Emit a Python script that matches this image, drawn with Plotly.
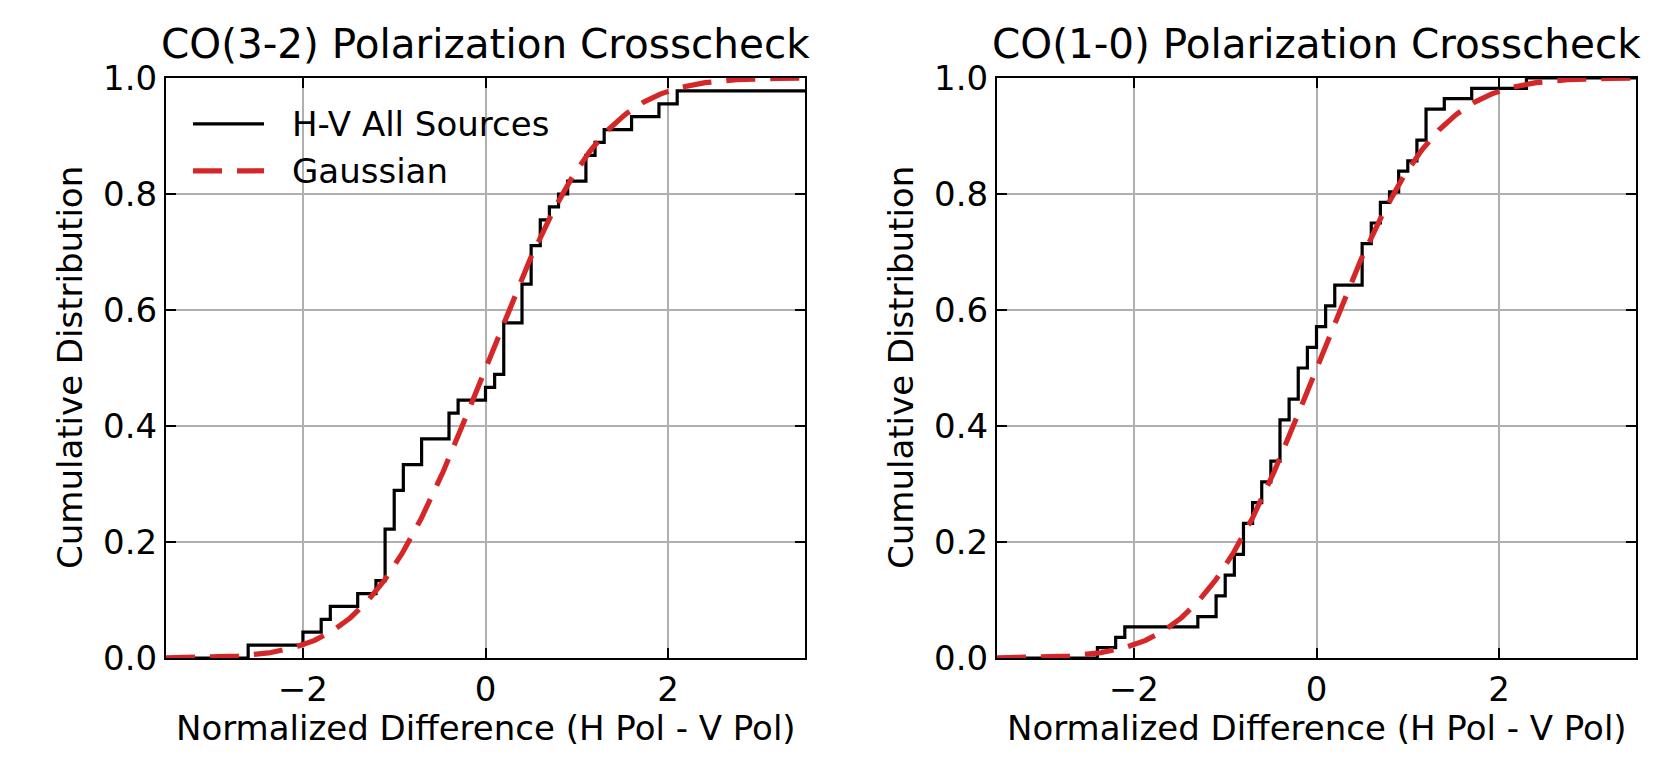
import math
import numpy as np
import plotly.graph_objects as go

# ---------------- data ----------------
panel_titles = ["CO(3-2) Polarization Crosscheck", "CO(1-0) Polarization Crosscheck"]
x_label = "Normalized Difference (H Pol - V Pol)"
y_label = "Cumulative Distribution"
legend_labels = ["H-V All Sources", "Gaussian"]

x_range = [-3.5, 3.5]
y_range = [0.0, 1.0]
x_ticks = [-2, 0, 2]
y_ticks = [0.0, 0.2, 0.4, 0.6, 0.8, 1.0]

# normalized H-V differences (read from the step positions)
co32_values = [-2.6, -2.0, -1.8, -1.7, -1.4, -1.2,
               -1.1, -1.1, -1.1, -1.1, -1.0, -1.0, -1.0, -0.9, -0.9,
               -0.7, -0.7, -0.4, -0.4, -0.3, 0.0, 0.1,
               0.2, 0.2, 0.2, 0.2, 0.4, 0.4, 0.4, 0.5, 0.5, 0.5,
               0.6, 0.6, 0.7, 0.8, 0.9, 1.1, 1.1, 1.2, 1.3,
               1.6, 1.9, 2.1, 3.8]

co10_values = [-2.4, -2.2, -2.1, -1.3, -1.1, -1.1, -1.0, -1.0,
               -0.9, -0.9, -0.8, -0.8, -0.8, -0.7, -0.7, -0.6, -0.6,
               -0.5, -0.5, -0.4, -0.4, -0.4, -0.4, -0.3, -0.3,
               -0.2, -0.2, -0.2, -0.1, -0.1, 0.0, 0.0, 0.1, 0.1,
               0.2, 0.2, 0.5, 0.5, 0.5, 0.5, 0.6, 0.6, 0.7, 0.7,
               0.8, 0.9, 0.9, 1.0, 1.1, 1.1, 1.2, 1.2, 1.2,
               1.4, 1.7, 2.3]

gauss_mu = 0.0
gauss_sigma = 1.0

# ---------------- styling ----------------
FONT = "DejaVu Sans"
BLACK = "#000000"
RED = "#d62728"
GRID = "#b0b0b0"
DASH = "29px,15px"
FS = 34
FS_TITLE = 40.5
W, H = 1661, 775
ML, MR, MT, MB = 166, 25, 78, 117
plot_w = W - ML - MR
ax_w = 639
gap = plot_w - 2 * ax_w


def ecdf(values):
    v = np.sort(np.asarray(values, dtype=float))
    u, c = np.unique(v, return_counts=True)
    cum = np.cumsum(c) / len(v)
    xs = np.concatenate([[-10.0], u, [10.0]])
    ys = np.concatenate([[0.0], cum, [cum[-1]]])
    return xs, ys


def gauss_cdf(x, mu, sigma):
    return np.array([0.5 * (1 + math.erf((xi - mu) / (sigma * math.sqrt(2)))) for xi in x])


fig = go.Figure()
gx = np.linspace(x_range[0], x_range[1], 500)
datasets = [co32_values, co10_values]
for i, vals in enumerate(datasets):
    xa = "x" if i == 0 else "x2"
    ya = "y" if i == 0 else "y2"
    sx, sy = ecdf(vals)
    fig.add_trace(go.Scatter(x=sx, y=sy, mode="lines", line=dict(color=BLACK, width=3.2, shape="hv"),
                             name=legend_labels[0], showlegend=False, xaxis=xa, yaxis=ya,
                             hoverinfo="skip"))
    fig.add_trace(go.Scatter(x=gx, y=gauss_cdf(gx, gauss_mu, gauss_sigma), mode="lines",
                             line=dict(color=RED, width=5.2, dash=DASH),
                             name=legend_labels[1], showlegend=False, xaxis=xa, yaxis=ya,
                             hoverinfo="skip"))

d1 = [0.0, ax_w / plot_w]
d2 = [(ax_w + gap) / plot_w, 1.0]

axis_common = dict(
    showline=True, linecolor=BLACK, linewidth=2, mirror="allticks",
    ticks="inside", ticklen=10, tickwidth=2, tickcolor=BLACK,
    showgrid=True, gridcolor=GRID, gridwidth=1.7, zeroline=False,
    tickfont=dict(family=FONT, size=FS, color=BLACK),
)

fig.update_layout(
    width=W, height=H,
    margin=dict(l=ML, r=MR, t=MT, b=MB, pad=0),
    paper_bgcolor="white", plot_bgcolor="white",
    showlegend=False,
    font=dict(family=FONT, size=FS, color=BLACK),
    xaxis=dict(domain=d1, range=x_range, tickvals=x_ticks, anchor="y", **axis_common),
    yaxis=dict(domain=[0, 1], range=y_range, tickvals=y_ticks, tickformat=".1f", anchor="x", **axis_common),
    xaxis2=dict(domain=d2, range=x_range, tickvals=x_ticks, anchor="y2", **axis_common),
    yaxis2=dict(domain=[0, 1], range=y_range, tickvals=y_ticks, tickformat=".1f", anchor="x2", **axis_common),
)

annotations = []
for i in range(2):
    xd = "x domain" if i == 0 else "x2 domain"
    yd = "y domain" if i == 0 else "y2 domain"
    annotations.append(dict(text=panel_titles[i], xref=xd, yref=yd, x=0.5, y=1.0,
                            xanchor="center", yanchor="bottom", yshift=8, showarrow=False,
                            font=dict(family=FONT, size=FS_TITLE, color=BLACK)))
    annotations.append(dict(text=x_label, xref=xd, yref=yd, x=0.5, y=0.0,
                            xanchor="center", yanchor="middle", yshift=-70, showarrow=False,
                            font=dict(family=FONT, size=FS, color=BLACK)))
    annotations.append(dict(text=y_label, xref=xd, yref=yd, x=0.0, y=0.5, textangle=-90,
                            xanchor="center", yanchor="middle", xshift=-96, showarrow=False,
                            font=dict(family=FONT, size=FS, color=BLACK)))

# legend (upper left of first panel)
leg_y = [0.921, 0.840]
leg_styles = [dict(color=BLACK, width=3.2), dict(color=RED, width=5.2, dash=DASH)]
shapes = []
for k in range(2):
    shapes.append(dict(type="line", xref="x domain", yref="y domain", x0=0.0423, x1=0.1534,
                       y0=leg_y[k], y1=leg_y[k], line=leg_styles[k]))
    annotations.append(dict(text=legend_labels[k], xref="x domain", yref="y domain", x=0.194,
                            y=leg_y[k], xanchor="left", yanchor="middle", showarrow=False,
                            font=dict(family=FONT, size=FS, color=BLACK)))

fig.update_layout(annotations=annotations, shapes=shapes)

fig.write_html("out.html", config={"displayModeBar": False},
               post_script="document.body.style.margin='0';document.body.style.overflow='hidden';")
